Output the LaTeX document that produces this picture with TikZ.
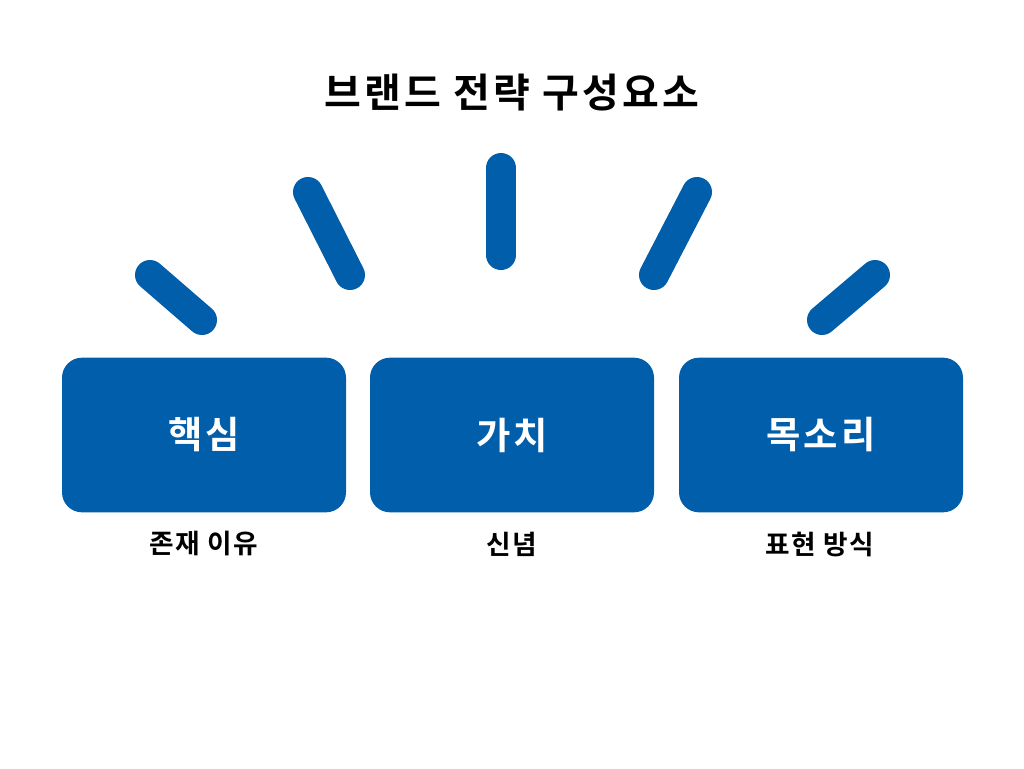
\documentclass[tikz,border=0pt]{standalone}
\usepackage{fontspec}
\usepackage{xcolor}
\setmainfont{Noto Sans CJK KR}[BoldFont={Noto Sans CJK KR Bold}]
\definecolor{brandblue}{RGB}{0,94,170}
\usetikzlibrary{positioning}

\begin{document}
\begin{tikzpicture}[
                x=0.75pt, y=-0.75pt,
                block/.style={fill=brandblue, rounded corners=15pt, minimum width=213pt, minimum height=116pt, inner sep=0pt, text=white, font=\fontsize{28}{30}\selectfont\bfseries\addfontfeatures{LetterSpace=8}},
                sublabel/.style={font=\fontsize{20}{22}\selectfont\bfseries\addfontfeatures{LetterSpace=6}},
                ray/.style={brandblue, line width=22.5pt, line cap=round}
            ]
            \useasboundingbox (0,0) rectangle (1024,768);
            \node[font=\fontsize{30}{32}\selectfont\bfseries\addfontfeatures{LetterSpace=8}] (title) at (512,93) {브랜드 전략 구성요소};
            % the three pillars
            \node[block] (core) at (204,435) {핵심};
            \node[block] (value) at (512,435) {가치};
            \node[block] (voice) at (821,435) {목소리};
            \node[sublabel] (corelbl) at (204,544) {존재 이유};
            \node[sublabel] (valuelbl) at (512,544) {신념};
            \node[sublabel] (voicelbl) at (820,544) {표현 방식};
            % rays above
            \draw[ray] (150,275) -- (202,320);
            \draw[ray] (308,192) -- (350,275);
            \draw[ray] (501,168) -- (501,255);
            \draw[ray] (697,192) -- (654,275);
            \draw[ray] (875,275) -- (822,320);
        \end{tikzpicture}
\end{document}
